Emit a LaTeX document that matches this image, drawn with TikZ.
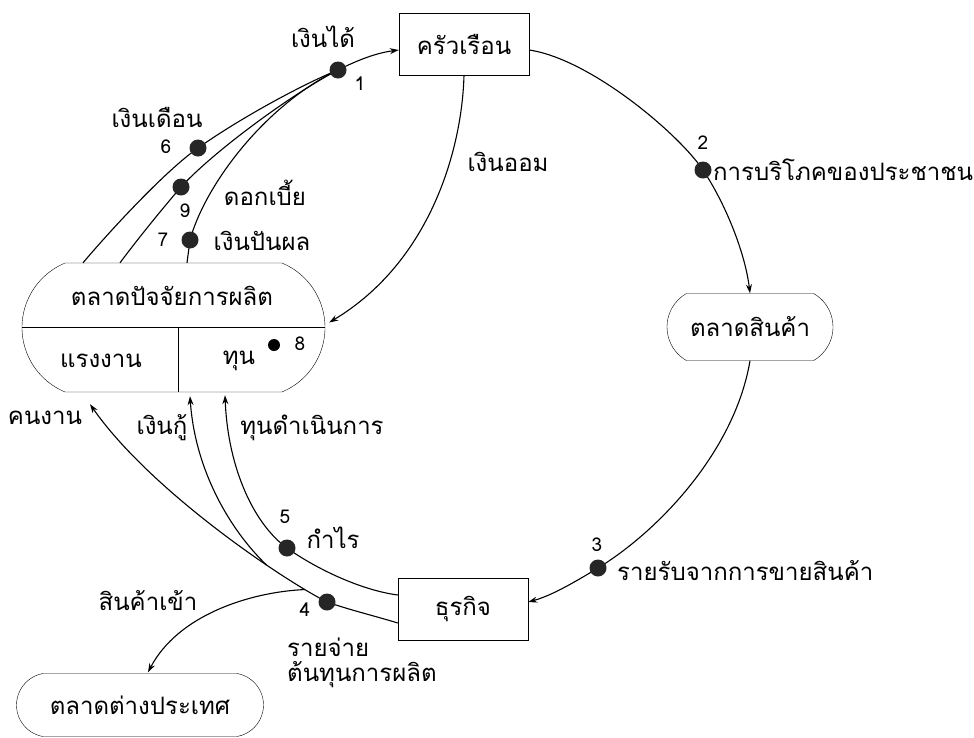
\documentclass[tikz,border=0pt]{standalone}
\usepackage{fontspec}
\newfontfamily\thai[Script=Thai]{Loma}
\usetikzlibrary{arrows.meta,shapes.misc,calc}
\pgfdeclarelayer{bg}
\pgfsetlayers{bg,main}
\begin{document}
\begin{tikzpicture}[x=1pt,y=-1pt,
  font=\thai\fontsize{24}{28}\selectfont,
  line width=1.1pt,
  con/.style={line width=1.1pt},
  arr/.style={con, -{Stealth[length=9pt,width=6pt]}},
  box/.style={draw, rectangle, inner sep=0pt, minimum width=130pt, minimum height=62pt},
  mkt/.style={draw, rounded rectangle, inner sep=0pt},
  dot/.style={circle, fill=black!85, inner sep=0pt, minimum size=17pt},
  num/.style={inner sep=0pt, font=\thai\fontsize{19}{22}\selectfont},
  lbl/.style={inner sep=0pt}]
\useasboundingbox (0,0) rectangle (974,737);
\begin{pgfonlayer}{bg}
\fill[white] (0,0) rectangle (974,737);
\end{pgfonlayer}

% main nodes
\node[box] (hh) at (464,44) {ครัวเรือน};
\node[box] (biz) at (463,609) {ธุรกิจ};
\node[mkt, rounded rectangle arc length=120, minimum width=166pt, minimum height=67pt] (gm) at (750,327) {ตลาดสินค้า};
\node[mkt, rounded rectangle arc length=160, minimum width=247pt, minimum height=63pt] (fx) at (140,705) {ตลาดต่างประเทศ};
\node[mkt, rounded rectangle arc length=135, minimum width=303pt, minimum height=129pt] (fm) at (173.5,327.5) {};
\draw (fm.west) -- (fm.east);
\draw ($(fm.center)+(4.5,0)$) -- ($(fm.south)+(4.5,0)$);
\node[lbl] (fmt) at (172,296) {ตลาดปัจจัยการผลิต};
\node[lbl] (lab) at (101,361) {แรงงาน};
\node[lbl] (cap) at (239,361) {ทุน};
\node[circle, fill=black, inner sep=0pt, minimum size=12pt] (d8) at (274,345) {};
\node[num] (n8) at (300,344) {8};

% dots
\node[dot] (d1) at (338,70) {};
\node[dot] (d2) at (703,170) {};
\node[dot] (d3) at (598,568) {};
\node[dot] (d4) at (327,602) {};
\node[dot] (d5) at (287,548) {};
\node[dot] (d6) at (198,148) {};
\node[dot] (d7) at (190,240) {};
\node[dot] (d9) at (181,187) {};

\coordinate (b4) at ($(biz.west)+(0,14)$);
\coordinate (b5) at ($(biz.west)+(0,-14)$);
\coordinate (a0) at ($(fm.north)+(-90.5,0)$);
\coordinate (a9) at ($(fm.north)+(-53.5,0)$);
\coordinate (a7) at ($(fm.north)+(13.5,0)$);
\coordinate (kn) at ($(fm.south)+(-83.5,12)$);
\coordinate (lo) at ($(fm.south)+(16.5,4)$);
\coordinate (op) at ($(fm.south)+(51.5,3)$);

\begin{pgfonlayer}{bg}
% income to households
\draw[arr] (d1.center) .. controls (358,60) and (376,53) .. ($(hh.west)+(0,6)$);
\draw[con] (a0) .. controls (109,232) and (165,171) .. (d6.center) .. controls (239,119) and (301,85) .. (d1.center);
\draw[con] (a9) .. controls (140,236) and (163,208) .. (d9.center) .. controls (215,150) and (295,92) .. (d1.center);
\draw[con] (a7) .. controls (188,255) and (189,248) .. (d7.center) .. controls (205,185) and (265,105) .. (d1.center);
% savings
\draw[arr] (hh.south) .. controls (462,150) and (430,262) .. ($(fm.east)+(4,-5)$);
% consumption
\draw[arr] ($(hh.east)+(0,6)$) .. controls (590,59) and (678,133) .. (d2.center) .. controls (725,203) and (745,252) .. (gm.north);
% sales revenue
\draw[arr] (gm.south) .. controls (735,450) and (660,530) .. (d3.center) .. controls (570,585) and (550,596) .. ($(biz.east)+(0,-7)$);
% costs -> labour
\draw[con] (b4) .. controls (375,616) and (350,610) .. (d4.center);
\draw[arr] (d4.center) .. controls (280,578) and (150,490) .. coordinate[pos=0.13] (j4) coordinate[pos=0.3] (mg) (kn);
% imports
\draw[arr] (j4) .. controls (250,592) and (178,615) .. ($(fx.north)+(8,-1)$);
% loans
\draw[arr] (mg) .. controls (230,530) and (195,470) .. (lo);
% profit -> operating capital
\draw[arr] (b5) .. controls (360,590) and (315,568) .. (d5.center) .. controls (255,525) and (228,470) .. (op);
\end{pgfonlayer}

% labels
\node[lbl] (t1) at (323,37) {เงินได้};
\node[num] (n1) at (360,84) {1};
\node[lbl] (t6) at (157,117) {เงินเดือน};
\node[num] (n6) at (166,147) {6};
\node[num] (n9) at (185,211) {9};
\node[lbl] (t9) at (265,193) {ดอกเบี้ย};
\node[num] (n7) at (163,240) {7};
\node[lbl] (t7) at (262,241) {เงินปันผล};
\node[lbl] (ts) at (508,162) {เงินออม};
\node[num] (n2) at (703,143) {2};
\node[lbl, anchor=west] (t2) at (713,170) {การบริโภคของประชาชน};
\node[num] (n3) at (597,545) {3};
\node[lbl, anchor=west] (t3) at (617,571) {รายรับจากการขายสินค้า};
\node[num] (n5) at (285,517) {5};
\node[lbl] (t5) at (333,538) {กำไร};
\node[num] (n4) at (305,610) {4};
\node[lbl] (tim) at (148,601) {สินค้าเข้า};
\node[lbl, anchor=west] (t4a) at (287,647) {รายจ่าย};
\node[lbl, anchor=west] (t4b) at (287,675) {ต้นทุนการผลิต};
\node[lbl] (tkn) at (45,418) {คนงาน};
\node[lbl] (tlo) at (162,428) {เงินกู้};
\node[lbl] (top) at (312,428) {ทุนดำเนินการ};
\end{tikzpicture}
\end{document}
